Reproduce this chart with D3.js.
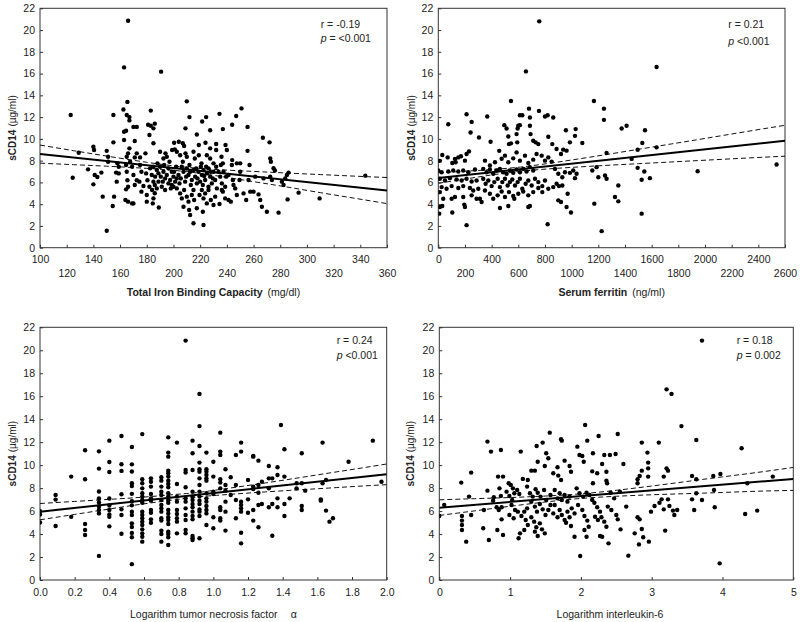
<!DOCTYPE html>
<html><head><meta charset="utf-8">
<script src="https://cdn.jsdelivr.net/npm/d3@7"></script>
<style>
body{margin:0;background:#fff}
text{font-family:"Liberation Sans",Arial,Helvetica,sans-serif;fill:#222}
</style>
</head><body>
<svg id="chart" width="800" height="622"></svg>
<script>
// ---------- data ----------
const yTicks = [0,2,4,6,8,10,12,14,16,18,20,22];
const tibcTicks = [100,120,140,160,180,200,220,240,260,280,300,320,340,360];
const ferritinTicks = [0,200,400,600,800,1000,1200,1400,1600,1800,2000,2200,2400,2600];
const tnfTicks = [0,0.2,0.4,0.6,0.8,1.0,1.2,1.4,1.6,1.8,2.0];
const il6Ticks = [0,1,2,3,4,5];

const tibcStat = ["r = -0.19", " = <0.001"];
const ferritinStat = ["r = 0.21", " <0.001"];
const tnfStat = ["r = 0.24", " <0.001"];
const il6Stat = ["r = 0.18", " = 0.002"];

const tibcFit = [[100,8.6],[360,5.25]];
const ferritinFit = [[0,6.4],[2600,9.83]];
const tnfFit = [[0,5.95],[2,9.2]];
const il6Fit = [[0,6.3],[5,8.8]];

// confidence band: [x, lower, upper]
const tibcCI = [[100,7.77,9.43],[125,7.63,8.92],[150,7.49,8.42],[180,7.29,7.85],[205,7.05,7.45],[230,6.65,7.2],[260,6.07,7.01],[285,5.58,6.86],[310,5.06,6.72],[335,4.56,6.58],[360,4.05,6.45]];
const ferritinCI = [[0,5.92,6.88],[150,6.21,6.99],[300,6.5,7.1],[450,6.77,7.23],[616,7.01,7.41],[800,7.22,7.7],[1000,7.38,8.06],[1250,7.56,8.54],[1500,7.72,9.04],[1750,7.88,9.54],[2000,8.04,10.04],[2300,8.23,10.65],[2600,8.41,11.25]];
const tnfCI = [[0,5.24,6.66],[0.2,5.71,6.84],[0.4,6.18,7.02],[0.6,6.63,7.22],[0.874,7.17,7.57],[1.0,7.35,7.8],[1.3,7.67,8.45],[1.65,7.99,9.27],[1.8,8.13,9.62],[2.0,8.3,10.1]];
const il6CI = [[0,5.62,6.98],[0.5,6.02,7.08],[1,6.42,7.18],[1.5,6.79,7.31],[2,7.1,7.5],[2.5,7.29,7.81],[3,7.42,8.18],[3.5,7.52,8.58],[4,7.62,8.98],[4.5,7.73,9.37],[5,7.8,9.8]];

const tibcPoints = [
[166,20.86],[163,16.57],[190.75,16.18],[343.75,6.62],
[165.5,13.4],[210,13.45],[123,12.2],[155,12.2],[162.5,12.7],[165,12.2],[167,12.0],[183,12.6],[212,12.0],[221.5,11.6],[224.5,12.0],[234.5,12.3],[251,12.8],[247,12.1],
[167,11.7],[164.5,10.75],[163,10.66],[170,11.1],[172.5,11.1],[181,11.3],[183,11.2],[186,11.4],[185,10.97],[209,10.97],[217.5,10.4],[227.5,10.8],[237,10.9],[244,11.3],[255.5,11.1],[182,10.35],[185,9.6],[171,9.8],[155,9.68],[163,9.9],[200.5,9.65],[204,9.74],[207,9.6],[208,9.34],[219,9.44],[224,9.65],[227.5,9.13],[232,9.53],[232,8.98],[239,9.44],[240,8.98],[255.5,8.9],[267,10.1],[272,9.68],
[140,9.28],[140.5,8.98],[129,8.73],[150,8.9],[167,9.13],[166,8.67],[172.5,8.67],[171,8.3],[175,8.3],[179,8.67],[190,8.82],[194,8.67],[195,8.36],[192.5,8.2],[199,8.98],[201,9.04],[202.5,8.82],[205,8.5],[209,8.67],[210,8.36],[207,7.9],[215,8.82],[216,8.2],[219,8.5],[221,7.75],[225,8.5],[227.5,8.2],[230,7.75],[236,8.36],[237,7.75],[244,8.05],[247.5,7.75],[250,7.75],[272.5,8.2],[273,7.9],[275,7.3],[276,7.1],[257,7.6],
[136,7.2],[141,6.68],[140,5.82],[124.5,6.43],[146,6.9],[147,4.69],[143,6.5],[151,8.36],[151,7.9],[158,7.75],[159,7.44],[157,6.9],[159,6.83],[157.5,6.07],[155.5,4.69],[154.5,3.83],[150,1.56],
[165,8.36],[164.5,7.6],[165,6.98],[165.5,6.2],[166,5.6],[164.5,5.36],[164,4.38],[166,4.23],[169,4.07],[170,4.07],
[167.5,7.9],[169,7.44],[170,6.68],[172.5,6.2],[171,5.76],[175,7.6],[176,6.98],[174.5,6.07],[177.5,5.67],[176,5.15],[179.5,6.83],[180.5,6.2],[182,5.6],[180,4.84],[180,4.23],
[185,6.07],[186,5.76],[184,5.3],[186,5.0],[185,4.53],[187.5,5.45],[184.5,4.07],[189,3.7],
[182.5,7.29],[185,7.44],[187.5,7.14],[188.75,6.83],[190.5,6.53],[192.5,6.98],[193.75,6.37],[195,6.68],[197.5,6.22],[198.75,6.98],[200,6.53],[201.25,6.07],[202.5,6.37],[203.75,6.68],[200,5.6],[202.5,5.45],[198.75,5.76],[196.25,5.91],[193.75,5.3],[191.25,5.6],[188.75,6.07],
[206.25,7.44],[207.5,6.98],[210,7.29],[211.25,6.68],[212.5,6.98],[213.75,6.22],[215,7.14],[216.25,6.53],[217.5,5.91],[218.75,6.98],[220,6.07],[221.25,6.68],[222.5,7.14],[223.75,6.22],[225,6.83],[226.25,5.6],[227.5,6.53],[228.75,5.91],[230,6.98],[231.25,6.22],[232.5,5.45],[235,6.53],[236.25,5.91],[237.5,6.98],[238.75,5.6],
[205,4.99],[206.25,4.53],[208,5.3],[210,4.69],[211.25,4.23],[213.75,4.84],[215,5.3],[215.5,4.38],[217.5,3.62],[219.5,4.84],[221.25,5.3],[222.5,4.53],[223.75,4.99],[225,4.07],[226.25,5.3],[228,4.38],[230,3.92],[231.25,4.69],[234.5,4.01],[236.25,5.3],[238.75,4.53],[211.75,3.46],[212.5,3.0],[215,2.24],[222.5,2.08],[222,3.31],[207.5,3.77],
[241.25,6.68],[243.75,7.6],[244.5,6.22],[246.25,5.45],[247.5,4.84],[249.5,6.22],[250,6.98],[252.5,4.99],[254.5,4.38],[256.25,6.22],[257.5,5.15],[260,5.15],[261.25,6.53],[263.75,4.9],[265,4.38],[266.25,3.77],[267.5,6.37],[270,3.31],[272.5,6.53],[273.75,6.22],[278.75,3.22],[281.25,6.07],[282.5,5.76],[283.75,6.37],[285,6.68],[285.5,4.44],[286.25,6.9],[293.75,5.06],[309.5,4.53],
[183.75,6.68],[186.25,6.53],[188,7.75],[190,7.44],[192,6.07],[193,7.6],[196.25,7.29],[197,7.9],[198,5.45],[200.5,6.98],[202,7.44],[204.5,5.91],[205.5,6.37],[208.75,6.07],[209.5,6.53],[212,7.6],[213,5.76],[217,7.29],[218,6.37],[220.5,7.44],[222,5.76],[223,6.59],[224.5,7.44],[226.25,7.29],[228,6.98],[229.5,6.37],[232,7.44],[233.75,6.98],[235.5,7.6],[237,5.15],[239.5,6.53],[241.25,4.38],[243,4.23],[245,5.76]
];

const ferritinPoints = [
[757,20.8],[657,16.2],[1637,16.6],[2537,7.64],
[545,13.48],[1167,13.48],[1242,12.78],[1242,11.75],[212,12.26],[75,11.35],[250,11.56],[367,12.05],[612,12.17],[630,12.17],[680,12.78],[755,12.57],[800,12.05],[820,12.17],[862,11.96],[687,11.96],
[495,11.26],[512,10.96],[600,11.2],[612,11.26],[595,10.96],[687,11.2],[242,10.59],[305,10.13],[392,9.74],[525,10.22],[530,9.52],[545,9.59],[587,10.44],[592,9.68],[692,10.44],[712,9.83],[730,9.68],[750,9.52],[825,10.19],[855,9.52],[957,10.8],[1030,10.9],[1025,10.28],[987,9.68],[1080,9.62],[1375,10.96],[1412,11.2],[1550,10.8],[1530,9.62],[1495,9.0],[1637,9.22],[1450,8.16],[1945,7.03],
[30,8.52],[12,7.98],[70,8.3],[125,8.16],[150,8.3],[170,8.4],[212,8.61],[230,8.85],[105,7.79],[130,7.85],[200,8.0],
[0,7.09],[25,6.94],[75,7.0],[112,7.09],[150,7.0],[187,7.09],[225,6.94],[275,7.18],
[12,6.33],[50,6.18],[87,6.39],[137,6.27],[175,6.18],[212,6.33],[250,6.09],[287,6.18],
[25,5.57],[62,5.42],[100,5.66],[150,5.48],[187,5.66],[237,5.48],[262,5.26],[300,5.42],
[12,5.11],[37,4.5],[100,4.5],[125,4.66],[187,4.66],[250,4.81],[287,4.5],
[12,3.74],[30,3.83],[195,3.96],[200,3.74],[105,3.23],[7,3.13],[212,2.07],[312,4.5],[325,4.2],
[337,7.24],[362,6.94],[387,7.18],[412,6.79],[437,7.09],[462,7.24],[487,6.94],[512,6.79],[537,7.09],[562,6.88],[587,7.18],[612,6.94],[637,7.24],[662,7.0],[687,7.4],[712,7.09],
[337,6.33],[355,5.87],[375,6.18],[400,5.66],[420,6.03],[445,6.33],[462,5.57],[480,6.03],[500,6.33],[520,5.72],[537,6.03],[555,6.27],[575,5.72],[595,6.03],[612,6.33],[630,5.42],[655,5.87],[675,6.18],[700,5.72],[725,6.33],[750,6.03],[780,5.66],[800,6.18],
[350,5.26],[387,4.96],[412,4.5],[445,4.81],[475,5.17],[500,4.66],[530,5.11],[562,4.75],[600,4.96],[637,5.17],[675,4.81],[712,5.11],[750,5.48],[780,5.11],[825,5.42],[862,5.57],
[462,3.65],[525,3.83],[675,3.74],[687,3.83],[570,4.5],[820,2.16],
[350,8.0],[387,7.55],[425,7.85],[457,8.9],[475,8.18],[500,8.46],[525,7.85],[562,8.21],[587,8.76],[612,8.0],[650,8.46],[675,7.79],[712,8.09],[737,8.61],[775,8.46],[800,8.0],[825,8.3],[850,7.91],[887,9.07],[920,8.61],[937,9.01],[962,8.92],
[875,7.24],[900,6.79],[930,6.48],[950,6.94],[987,6.88],[1012,7.09],[1037,6.79],[1025,6.39],
[887,5.87],[905,5.66],[920,4.2],[900,4.35],[930,5.72],[970,4.96],[962,3.74],[995,3.23],
[1155,7.09],[1187,7.4],[1200,6.48],[1250,6.63],[1262,6.33],[1170,4.05],[1225,1.52],[1350,5.72],[1325,4.66],[1350,4.26],
[1495,7.34],[1525,6.24],[1545,7.0],[1587,6.39],[1525,3.13],[1262,8.7]
];

// log TNF-alpha: values arranged in vertical stripes [x, [y...]]
const tnfStripes = [
[0,[6.0,5.7,5.0]],
[0.09,[7.4,7.0,4.7]],
[0.18,[9.0,5.5]],
[0.26,[11.3,8.77,4.88,4.35,3.92]],
[0.34,[11.2,9.7,7.7,7.1,6.75,6.4,6.1,5.8,2.1]],
[0.40,[12.13,10.27,9.4,7.1,6.48,6.1,5.7,5.5,4.67]],
[0.47,[12.54,10.08,9.5,7.46,6.15,5.66,4.03]],
[0.53,[11.58,10.07,9.45,8.42,8.19,7.5,6.85,6.5,5.95,5.66,4.93,4.62,4.1,3.72,1.38]],
[0.59,[12.7,8.77,8.42,7.98,7.55,7.26,6.97,6.73,5.95,5.66,5.37,5.08,4.79,4.41,4.06,3.77,3.34]],
[0.64,[8.85,8.56,8.13,7.49,7.11,6.91,6.1,5.86,5.28,4.99]],
[0.70,[8.94,8.65,8.13,7.69,7.4,6.97,6.53,6.24,5.95,5.37,5.17,4.3,4.0,3.34]],
[0.74,[12.42,11.09,10.74,9.52,9.29,9.0,8.65,8.36,8.07,7.55,7.26,6.97,6.73,6.1,5.8,5.46,5.22,4.88,4.21,4.0,3.72,3.05]],
[0.79,[11.96,8.36,7.26,6.82,6.1,5.75,5.37,5.08,4.06]],
[0.84,[20.84,9.58,9.35,8.07,7.11,6.82,6.24,5.66,5.22,4.35,4.06]],
[0.88,[12.13,11.03,9.58,7.69,7.26,6.97,6.62,6.33,5.95,5.57,5.28,3.83,3.63,3.48]],
[0.92,[16.2,13.4,11.67,10.22,9.64,9.43,8.85,8.27,7.69,7.26,6.91,6.62,6.15,5.95,5.57,3.63]],
[0.96,[11.09,9.64,9.43,9.14,8.85,8.65,7.55,7.11,6.82,6.44,6.1,5.8,4.79]],
[1.0,[10.3,9.0,7.69,7.49,5.46,4.5]],
[1.04,[12.83,11.18,10.88,8.77,8.48,7.98,6.33,6.1,5.37,5.17]],
[1.07,[9.64,8.27,7.78,6.82,5.95,4.3]],
[1.10,[8.94,7.4]],
[1.13,[10.88,8.27,6.97,5.37]],
[1.16,[11.96,11.18,6.82,6.53,6.24,5.95,4.12,3.19]],
[1.20,[8.71,7.02,5.86]],
[1.23,[10.8,10.74,8.13,7.92,6.1,5.17]],
[1.26,[10.39,8.27,7.6,6.53,4.59]],
[1.28,[8.56,6.62]],
[1.32,[9.93,8.85,7.98,6.33]],
[1.34,[8.85,6.62,3.85]],
[1.37,[9.81,9.14,7.11,6.33]],
[1.39,[13.5]],
[1.41,[11.38,9.0,6.62,5.57]],
[1.44,[7.11]],
[1.48,[8.42,7.98]],
[1.51,[11.03,8.42,6.44,6.1]],
[1.53,[7.78]],
[1.62,[6.91,7.02]],
[1.63,[11.96,8.42]],
[1.65,[8.71,6.04]],
[1.67,[5.08]],
[1.69,[5.37]],
[1.78,[10.3]],
[1.92,[12.13]],
[1.97,[8.56]]
];

const il6Points = [
[3.71,20.84],[3.21,16.6],[3.28,16.2],[3.42,13.4],[2.06,13.5],[0,5.57],
[1.56,12.83],[1.72,12.25],[1.73,12.13],[0.68,12.05],[0.73,11.18],[0.87,11.32],[1.15,11.18],[1.375,11.67],[1.46,11.96],[1.51,11.03],[1.54,10.6],[1.49,9.93],[1.39,10.3],[1.95,11.61],[2.09,12.13],[2.25,12.54],[2.52,12.71],[1.98,10.88],[2.02,10.8],[2.17,11.03],[2.33,10.88],[2.41,10.88],[2.49,10.97],[2.86,11.96],[2.94,11.09],[3.1,11.96],[3.63,12.19],[4.27,11.47],
[2.04,10.3],[2.3,10.1],[2.36,9.43],[2.6,10.1],[2.95,10.22],[2.95,9.72],[2.95,9.0],[2.83,9.06],[2.86,9.52],[3.21,9.72],[3.23,9.52],[0.45,9.35],[0.31,8.48],[0.83,9.0],[0.9,9.0],[1.3,9.52],[1.35,9.52],[1.18,8.8],[1.25,8.71],[1.67,9.81],[1.77,10.39],[1.84,9.93],[1.86,9.43],[1.61,9.29],[1.68,9.09],[1.72,8.71],[2.16,9.46],[2.23,9.29],[2.17,8.42],[2.36,8.65],[2.37,8.42],[2.8,8.42],[2.8,8.77],[3.17,9.0],[3.57,9.06],[3.63,8.77],[3.87,9.06],[3.97,9.23],[3.63,7.55],[3.88,7.84],[4.71,9.0],[4.35,8.42],
[0.07,6.53],[0.42,7.26],[0.32,5.57],[0.32,5.17],[0.32,4.79],[0.32,4.35],[0.38,3.34],[0.45,5.66],[0.63,6.1],[0.68,7.78],[0.7,3.48],[0.62,4.5],[0.82,4.35],[0.88,5.28],[0.88,6.33],[0.9,3.92],[0.76,6.91],[0.77,7.2],[0.81,6.33],[0.84,6.1],[0.85,7.98],[0.87,7.31],[0.95,7.69],[0.98,8.42],[1.01,8.27],[1.04,7.98],
[0.99,7.31],[1.03,6.97],[1.06,7.55],[1.1,7.84],[1.13,7.49],[1.02,6.53],[1.07,6.1],[0.99,5.66],[1.05,5.37],[1.11,5.95],[1.16,5.57],[1.2,5.95],[1.24,6.24],[1.22,5.22],[1.25,4.79],[1.2,4.35],[1.12,3.63],[1.14,4.06],
[1.24,8.13],[1.28,7.55],[1.32,7.26],[1.36,7.9],[1.39,7.6],[1.43,7.26],[1.48,7.84],[1.51,6.97],
[1.3,6.82],[1.35,6.39],[1.38,5.95],[1.42,6.62],[1.46,6.15],[1.5,5.66],[1.54,6.1],[1.57,6.53],[1.61,5.8],
[1.3,5.46],[1.34,5.08],[1.37,4.59],[1.42,4.93],[1.45,4.41],[1.49,4.06],[1.39,3.83],[1.35,4.21],
[1.57,7.4],[1.63,7.84],[1.67,7.11],[1.7,7.55],[1.73,6.97],[1.77,7.4],[1.81,6.82],[1.84,7.26],
[1.63,6.53],[1.67,5.46],[1.7,6.1],[1.73,5.66],[1.77,5.22],[1.81,5.95],[1.84,5.46],[1.87,6.24],[1.91,5.8],
[1.79,4.99],[1.86,4.7],[1.91,3.77],[1.99,2.09],
[1.94,7.98],[1.98,7.55],[2.03,7.26],[2.08,7.6],[2.12,7.4],[2.16,6.97],
[1.96,6.53],[2.02,6.1],[2.05,5.57],[2.09,5.17],[2.11,4.64],[2.08,3.77],[2.05,4.35],
[2.19,6.73],[2.23,6.33],[2.27,5.95],[2.29,5.46],[2.33,5.08],[2.36,4.64],[2.24,5.22],[2.2,5.51],
[2.38,6.39],[2.43,6.1],[2.47,7.11],[2.5,5.66],[2.52,5.28],[2.42,7.6],[2.55,7.69],
[2.39,3.19],[2.27,3.83],[2.3,3.77],[2.64,6.39],[2.67,2.12],[2.56,4.41],
[2.76,4.06],[2.8,5.46],[2.83,5.28],[2.86,4.44],[2.82,3.1],[2.88,3.72],[2.96,3.34],
[2.99,5.95],[3.04,6.44],[3.11,6.73],[3.14,7.02],[3.17,6.15],[3.23,7.02],[3.25,6.44],[3.3,6.04],[3.32,5.66],[3.36,6.1],[3.19,4.3],
[3.57,7.02],[3.6,6.1],[3.71,6.97],[3.89,6.33],[3.96,1.45],[4.32,5.75],[4.49,6.04]
];

// ---------- drawing ----------
const tnfPoints = tnfStripes.flatMap(([x, ys]) => ys.map(y => [x, y]));
const svg = d3.select("#chart");

const panels = [
  {pts: tibcPoints, xd:[100,360], xt: tibcTicks, fmt: d => d, two: true,
   l:40, r:387, t:8.3, b:247.7, fit: tibcFit, ci: tibcCI, stat: tibcStat,
   sx:320.7, sy:[24.3,38.3], yx:12, titleY:292.7,
   title:[["Total Iron Binding Capacity","bold",0],["(mg/dl)","normal",5]]},
  {pts: ferritinPoints, xd:[0,2600], xt: ferritinTicks, fmt: d => d, two: true,
   l:438.3, r:785, t:8.3, b:247.7, fit: ferritinFit, ci: ferritinCI, stat: ferritinStat,
   sx:728.3, sy:[24.3,41], yx:411.5, titleY:292.7,
   title:[["Serum ferritin","bold",0],["(ng/ml)","normal",5]]},
  {pts: tnfPoints, xd:[0,2], xt: tnfTicks, fmt: d3.format(".1f"), two: false,
   l:40, r:386.7, t:327.3, b:580, fit: tnfFit, ci: tnfCI, stat: tnfStat,
   sx:336.7, sy:[340.7,355], yx:12, titleY:614,
   title:[["Logarithm tumor necrosis factor","normal",0],["\u03b1","normal",13]]},
  {pts: il6Points, xd:[0,5], xt: il6Ticks, fmt: d => d, two: false,
   l:439.3, r:793.3, t:327.3, b:580, fit: il6Fit, ci: il6CI, stat: il6Stat,
   sx:736.7, sy:[340.7,355], yx:410.5, titleY:614, titleX:610,
   title:[["Logarithm interleukin-6","normal",0]]}
];

panels.forEach((p, i) => {
  const x = d3.scaleLinear().domain(p.xd).range([p.l, p.r]);
  const y = d3.scaleLinear().domain([0,22]).range([p.b, p.t]);
  const g = svg.append("g");
  const clipId = "clip" + i;
  svg.append("clipPath").attr("id", clipId).append("rect")
    .attr("x", p.l).attr("y", p.t).attr("width", p.r - p.l).attr("height", p.b - p.t);

  // frame
  g.append("rect").attr("x", p.l).attr("y", p.t).attr("width", p.r - p.l).attr("height", p.b - p.t)
    .attr("fill", "none").attr("stroke", "#333").attr("stroke-width", 1);

  // axes
  const xa = g.append("g").attr("transform", `translate(0,${p.b})`)
    .call(d3.axisBottom(x).tickValues(p.xt).tickFormat(p.fmt).tickSizeInner(-3).tickSizeOuter(0));
  xa.select(".domain").remove();
  xa.selectAll(".tick line").attr("stroke", "#333");
  xa.selectAll(".tick text").attr("font-size", 10.5).attr("fill", "#222")
    .attr("font-family", "Liberation Sans, Arial, sans-serif")
    .attr("dy", "0.35em")
    .attr("y", (d, k) => p.two ? (k % 2 === 0 ? 11.5 : 25.5) : 12.7);

  const ya = g.append("g").attr("transform", `translate(${p.l},0)`)
    .call(d3.axisLeft(y).tickValues(yTicks).tickSizeInner(-3).tickSizeOuter(0).tickPadding(5));
  ya.select(".domain").remove();
  ya.selectAll(".tick line").attr("stroke", "#333");
  ya.selectAll(".tick text").attr("font-size", 10.5).attr("fill", "#222")
    .attr("font-family", "Liberation Sans, Arial, sans-serif");

  // confidence band
  const plot = g.append("g").attr("clip-path", `url(#${clipId})`);
  ["lower","upper"].forEach((k, j) => {
    plot.append("path").datum(p.ci)
      .attr("d", d3.line().x(d => x(d[0])).y(d => y(d[j + 1])).curve(d3.curveNatural))
      .attr("fill", "none").attr("stroke", "#111").attr("stroke-width", 1)
      .attr("stroke-dasharray", "5,3");
  });
  // regression
  plot.append("path").datum(p.fit)
    .attr("d", d3.line().x(d => x(d[0])).y(d => y(d[1])))
    .attr("fill", "none").attr("stroke", "#000").attr("stroke-width", 2);

  // points
  plot.selectAll("circle.pt").data(p.pts).join("circle")
    .attr("class", "pt")
    .attr("cx", d => x(d[0])).attr("cy", d => y(d[1])).attr("r", 2.2).attr("fill", "#000");

  // stats
  g.append("text").attr("x", p.sx).attr("y", p.sy[0]).attr("dy", "0.35em")
    .attr("font-size", 10.5).text(p.stat[0]);
  const pt = g.append("text").attr("x", p.sx).attr("y", p.sy[1]).attr("dy", "0.35em")
    .attr("font-size", 10.5);
  pt.append("tspan").attr("font-style", "italic").text("p");
  pt.append("tspan").attr("xml:space", "preserve").text(p.stat[1]);

  // x title
  const tx = p.titleX !== undefined ? p.titleX : (p.l + p.r) / 2;
  const tt = g.append("text").attr("x", tx).attr("y", p.titleY).attr("dy", "0.35em")
    .attr("text-anchor", "middle").attr("font-size", 10.5);
  p.title.forEach(([s, w, dx]) => {
    tt.append("tspan").attr("font-weight", w).attr("dx", dx).text(s);
  });

  // y title
  const yt = g.append("text")
    .attr("transform", `translate(${p.yx},${(p.t + p.b) / 2}) rotate(-90)`)
    .attr("text-anchor", "middle").attr("dy", "0.35em").attr("font-size", 10);
  yt.append("tspan").attr("font-weight", "bold").text("sCD14");
  yt.append("tspan").attr("dx", 3).text("(\u00b5g/ml)");
});
</script>
</body></html>
